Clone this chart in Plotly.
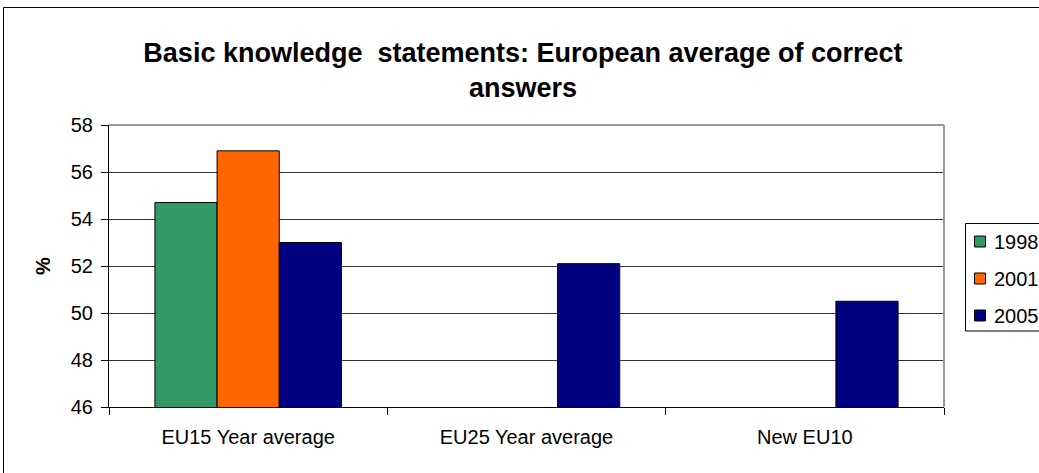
import plotly.graph_objects as go

categories = ["EU15 Year average", "EU25 Year average", "New EU10"]
years = ["1998", "2001", "2005"]
values_1998 = [54.7, None, None]
values_2001 = [56.9, None, None]
values_2005 = [53.0, 52.1, 50.5]
colors = ["#339966", "#FF6600", "#000080"]

fig = go.Figure()
for i, (name, vals) in enumerate(zip(years, [values_1998, values_2001, values_2005])):
    fig.add_trace(go.Bar(
        x=categories, y=vals, name=name, showlegend=False,
        marker=dict(color=colors[i], line=dict(color="black", width=1)),
    ))

W, H = 1039, 473
ml, mr, mt, mb = 109, 95, 125, 66
pw, ph = W - ml - mr, H - mt - mb


def px(x):
    return (x - ml) / pw


def py(y):
    return (H - mb - y) / ph


font = "Liberation Sans, Arial, sans-serif"

shapes = [
    # light plot-area border along top and right
    dict(type="line", xref="paper", yref="paper", x0=0, x1=1, y0=1, y1=1,
         line=dict(color="#999999", width=2)),
    dict(type="line", xref="paper", yref="paper", x0=1, x1=1, y0=0, y1=1,
         line=dict(color="#999999", width=2)),
    # outer chart frame (left and top edges)
    dict(type="line", xref="paper", yref="paper", x0=px(3.5), x1=px(3.5),
         y0=py(7.5), y1=py(480), line=dict(color="black", width=1)),
    dict(type="line", xref="paper", yref="paper", x0=px(3.5), x1=px(1050),
         y0=py(7.5), y1=py(7.5), line=dict(color="black", width=1)),
    # legend box
    dict(type="rect", xref="paper", yref="paper", x0=px(965.5), x1=px(1060),
         y0=py(331), y1=py(223.5), line=dict(color="black", width=1),
         fillcolor="white"),
]
annotations = []
legend_rows = [241.5, 278.5, 315.5]
for name, color, yc in zip(years, colors, legend_rows):
    shapes.append(dict(type="rect", xref="paper", yref="paper",
                       x0=px(974.5), x1=px(985.5), y0=py(yc + 5.5), y1=py(yc - 5.5),
                       line=dict(color="black", width=1), fillcolor=color))
    annotations.append(dict(text=name, xref="paper", yref="paper",
                            x=px(992), y=py(yc), xanchor="left", yanchor="middle",
                            showarrow=False, font=dict(family=font, size=20, color="black")))

fig.update_layout(
    width=W, height=H,
    margin=dict(l=ml, r=mr, t=mt, b=mb),
    paper_bgcolor="white", plot_bgcolor="white",
    barmode="group", bargap=0.33, bargroupgap=0,
    font=dict(family=font, size=20, color="black"),
    title=dict(
        text="<b>Basic knowledge  statements: European average of correct<br>answers</b>",
        x=523 / W, xref="container", xanchor="center",
        y=1 - 62 / H, yref="container", yanchor="top",
        font=dict(family=font, size=27, color="black"),
    ),
    showlegend=False,
    xaxis=dict(
        showline=True, linecolor="black", linewidth=1,
        ticks="outside", tickson="boundaries", ticklen=7, tickcolor="black",
        showgrid=False, tickfont=dict(size=20), ticklabelstandoff=12,
    ),
    yaxis=dict(
        range=[46, 58], dtick=2, tick0=46,
        showline=True, linecolor="black", linewidth=1,
        ticks="outside", ticklen=7, tickcolor="black",
        showgrid=True, gridcolor="#333333", gridwidth=1,
        zeroline=False, tickfont=dict(size=20), ticklabelstandoff=4,
        title=dict(text="<b>%</b>", font=dict(size=20), standoff=14),
    ),
    shapes=shapes,
    annotations=annotations,
)

fig.write_html("out.html")
